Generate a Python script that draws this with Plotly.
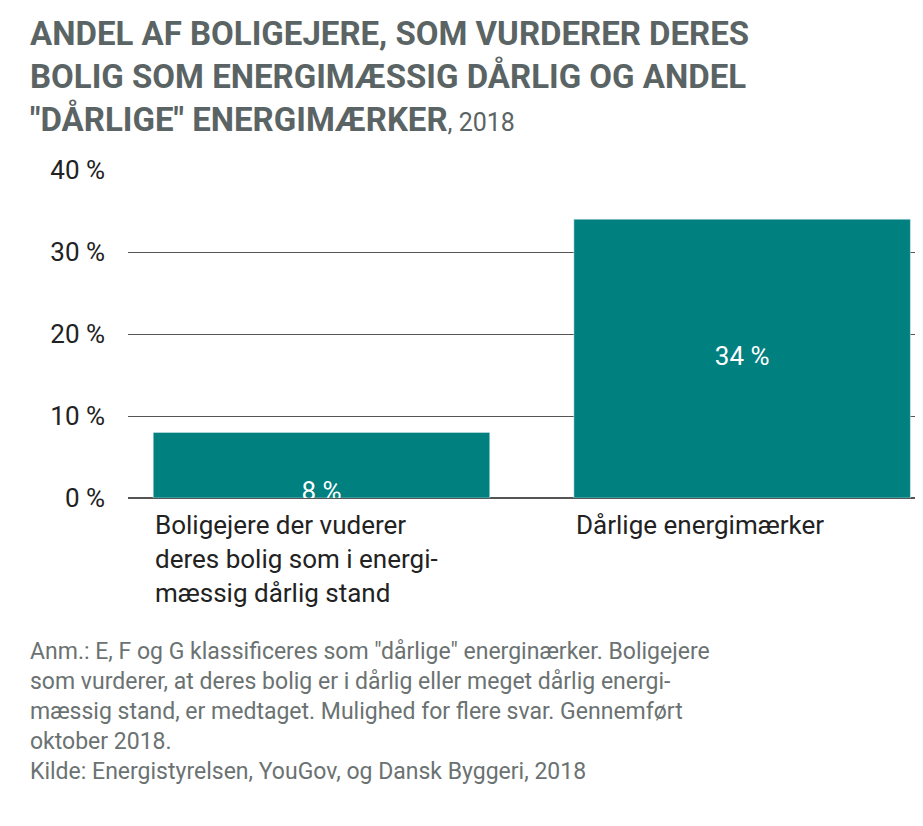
import plotly.graph_objects as go

categories = ["Boligejere der vuderer<br>deres bolig som i energi-<br>mæssig dårlig stand", "Dårlige energimærker"]
values = [8, 34]
value_labels = ["8 %", "34 %"]
tick_vals = [0, 10, 20, 30, 40]
tick_text = ["0 %", "10 %", "20 %", "30 %", "40 %"]

teal = "#00807f"
grey = "#5b6464"
font = "Roboto, sans-serif"

fig = go.Figure()
fig.add_trace(go.Bar(x=[0, 1], y=values, width=0.8, marker_color=teal, hoverinfo="skip"))
# value labels placed inside the bars
fig.add_trace(go.Scatter(x=[0, 1], y=[min(v / 2, v - 7.5) for v in values], mode="text",
                         text=value_labels, textfont=dict(color="white", size=26, family=font)))

for i, c in enumerate(categories):
    fig.add_annotation(x=i - 0.4, y=0, xref="x", yref="y", yshift=-10,
                       text=c, showarrow=False, xanchor="left", yanchor="top",
                       align="left", font=dict(size=26, color="#222", family=font))

fig.add_annotation(x=-0.125, y=1.0, xref="paper", yref="paper", yshift=158,
                   xanchor="left", yanchor="top", align="left", showarrow=False,
                   text="<b>ANDEL AF BOLIGEJERE, SOM VURDERER DERES<br>BOLIG SOM ENERGIMÆSSIG DÅRLIG OG ANDEL<br>\"DÅRLIGE\" ENERGIMÆRKER</b><span style='font-size:25px'>, 2018</span>",
                   font=dict(size=33, color=grey, family=font))

fig.add_annotation(x=-0.125, y=0, xref="paper", yref="paper", yshift=-138,
                   xanchor="left", yanchor="top", align="left", showarrow=False,
                   text="Anm.: E, F og G klassificeres som \"dårlige\" energinærker. Boligejere<br>"
                        "som vurderer, at deres bolig er i dårlig eller meget dårlig energi-<br>"
                        "mæssig stand, er medtaget. Mulighed for flere svar. Gennemført<br>"
                        "oktober 2018.<br>Kilde: Energistyrelsen, YouGov, og Dansk Byggeri, 2018",
                   font=dict(size=23, color="#6b7272", family=font))

fig.update_layout(
    width=923, height=826, margin=dict(l=120, r=0, t=162, b=336),
    plot_bgcolor="white", paper_bgcolor="white", showlegend=False,
    xaxis=dict(range=[-0.46, 1.449], showticklabels=False, showgrid=False, zeroline=False),
    yaxis=dict(range=[0, 40], tickvals=tick_vals, ticktext=tick_text, showgrid=True,
               gridcolor="#555", gridwidth=1, zeroline=True, zerolinecolor="#555",
               ticklabelstandoff=22, tickfont=dict(size=26, color="#222", family=font)),
)
fig.write_html("out.html")
